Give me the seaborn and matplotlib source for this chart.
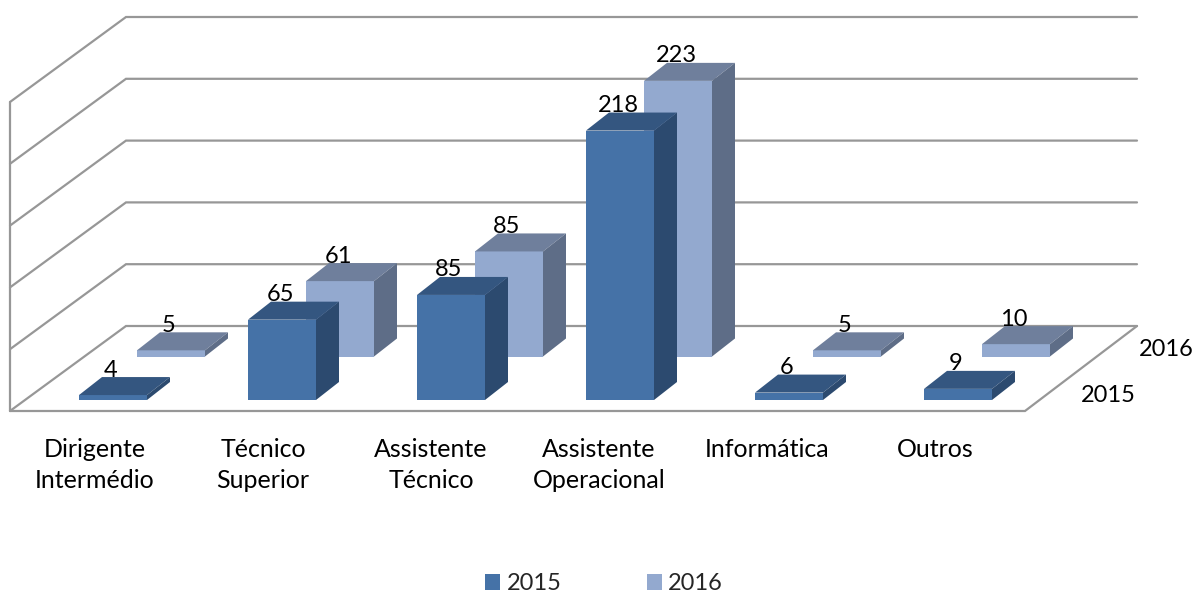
import matplotlib
matplotlib.use('Agg')
import matplotlib.pyplot as plt
import seaborn as sns
from matplotlib.patches import Polygon

categories = ['Dirigente\nIntermédio', 'Técnico\nSuperior', 'Assistente\nTécnico',
              'Assistente\nOperacional', 'Informática', 'Outros']
values_2015 = [4, 65, 85, 218, 6, 9]
values_2016 = [5, 61, 85, 223, 5, 10]
gridlines = [0, 50, 100, 150, 200, 250]

W, H = 1195, 592
STEP = 169.0       # px per category
SCALE = 1.236      # px per value unit
X0, Y0 = 113, 400  # px position of first category / zero line of the front row
DX, DY = 23 / STEP, 18 / SCALE  # bar depth in data units

sns.set_theme(style='white')
plt.rcParams['font.family'] = ['Lato', 'DejaVu Sans']
fig = plt.figure(figsize=(W / 100, H / 100), dpi=100)


def layer(shift_x, shift_y):
    # same scale on every layer, only shifted back into the "depth" of the chart
    ax = fig.add_axes([shift_x / W, shift_y / H, 1, 1])
    ax.patch.set_alpha(0)
    return ax


def finish(ax):
    ax.set_xlim(-X0 / STEP, (W - X0) / STEP)
    ax.set_ylim((Y0 - H) / SCALE, Y0 / SCALE)
    ax.axis('off')
    if ax.get_legend():
        ax.get_legend().remove()


def bars_3d(ax, values, year, front, top, side, year_y):
    sns.barplot(x=categories, y=values, ax=ax, color=front, width=68 / STEP,
                saturation=1, label=year, linewidth=0)
    for bar, v in zip(list(ax.patches), values):
        x0, x1 = bar.get_x(), bar.get_x() + bar.get_width()
        ax.add_patch(Polygon([(x0, v), (x1, v), (x1 + DX, v + DY), (x0 + DX, v + DY)],
                             facecolor=top, edgecolor='none'))
        ax.add_patch(Polygon([(x1, 0), (x1 + DX, DY), (x1 + DX, v + DY), (x1, v)],
                             facecolor=side, edgecolor='none'))
        ax.text((x0 + x1) / 2 - 2 / STEP, v + 25 / SCALE, str(v), ha='center', va='center',
                fontsize=17, color='black', zorder=5)
    ax.text(5.89, year_y, year, ha='center', va='center', fontsize=17, color='black')
    finish(ax)


# walls and floor
ax_wall = layer(0, 74)
left, right = (126 - X0) / STEP, (1137 - X0) / STEP
wall_dx, wall_dy = -116 / STEP, -85 / SCALE
grid = dict(color='#979797', lw=1.6, solid_joinstyle='miter')
for g in gridlines:
    ax_wall.plot([left + wall_dx, left, right], [g + wall_dy, g, g], **grid)
ax_wall.plot([left + wall_dx, left + wall_dx], [wall_dy, gridlines[-1] + wall_dy], **grid)
ax_wall.plot([left + wall_dx, right + wall_dx + 4 / STEP, right],
             [wall_dy, wall_dy, 0], **grid)
finish(ax_wall)

ax_back = layer(58, 43.5)
bars_3d(ax_back, values_2016, '2016', '#93A9CF', '#6F7F9C', '#5E6D87', 5.5)

ax_front = layer(0, 0)
bars_3d(ax_front, values_2015, '2015', '#4572A7', '#345680', '#2C4A6F', 3.6)

# category labels sit left of the bars, under the floor
for i, name in enumerate(categories):
    ax_front.text(i - (18 + i) / STEP, -31, name, ha='center', va='top', fontsize=18,
                  color='black', linespacing=1.42)

handles = ax_front.get_legend_handles_labels()[0] + ax_back.get_legend_handles_labels()[0]
fig.legend(handles, ['2015', '2016'], ncol=2, frameon=False, fontsize=17,
           loc='center', bbox_to_anchor=(604 / W, 1 - 584 / H),
           handlelength=0.64, handleheight=0.64, handletextpad=0.26, columnspacing=3.6)

fig.savefig('out.png', dpi=100)
plt.close(fig)
